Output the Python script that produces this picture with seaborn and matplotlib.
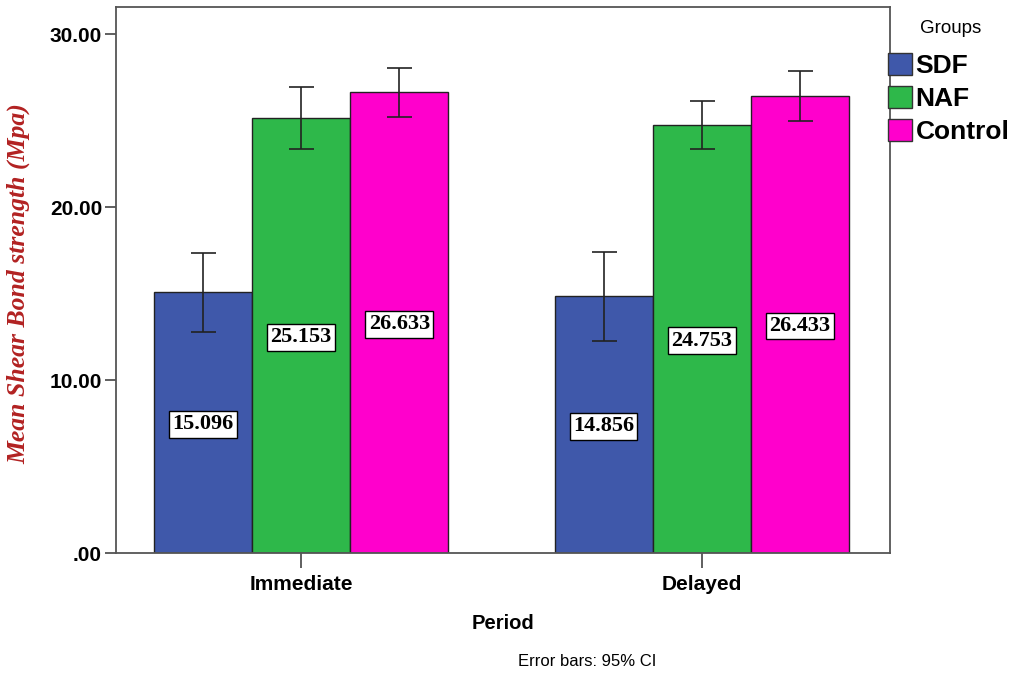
import numpy as np
import pandas as pd
import matplotlib
matplotlib.use("Agg")
import matplotlib.pyplot as plt
from matplotlib.patches import Patch
import seaborn as sns

# Werte
periods = ["Immediate", "Delayed"]
groups = ["SDF", "NAF", "Control"]
means = {"SDF": [15.096, 14.856], "NAF": [25.153, 24.753], "Control": [26.633, 26.433]}
ci_low = {"SDF": [12.77, 12.27], "NAF": [23.33, 23.37], "Control": [25.18, 24.95]}
ci_high = {"SDF": [17.34, 17.38], "NAF": [26.96, 26.11], "Control": [28.05, 27.88]}
colors = ["#3F58AA", "#2EB84A", "#FF00CC"]

rows = []
for g in groups:
    for i, p in enumerate(periods):
        rows.append({"Period": p, "Group": g, "Mean": means[g][i]})
df = pd.DataFrame(rows)

sns.set_style("white")
plt.rcParams["font.family"] = ["Liberation Sans", "DejaVu Sans"]
plt.rcParams["text.color"] = "black"
plt.rcParams["xtick.color"] = "black"
plt.rcParams["ytick.color"] = "black"
plt.rcParams["axes.labelcolor"] = "black"

fig = plt.figure(figsize=(10.13, 6.74), dpi=100)
ax = fig.add_axes([0.1145, 0.1795, 0.764, 0.810])

sns.barplot(data=df, x="Period", y="Mean", hue="Group", order=periods,
            hue_order=groups, palette=colors, width=0.735, errorbar=None,
            edgecolor="#222222", linewidth=1.0, saturation=1, ax=ax, legend=False)

# Fehlerbalken und Wertlabels
for gi, g in enumerate(groups):
    cont = ax.containers[gi]
    for pi, bar in enumerate(cont.patches):
        xc = bar.get_x() + bar.get_width() / 2
        m = means[g][pi]
        ax.errorbar(xc, m, yerr=[[m - ci_low[g][pi]], [ci_high[g][pi] - m]],
                    fmt="none", ecolor="#222222", elinewidth=1.2, capsize=9,
                    capthick=1.2, zorder=5)
        ax.text(xc, m / 2 - 0.1, f"{m:.3f}", ha="center", va="center",
                family="Liberation Serif", fontweight="bold", fontsize=16,
                bbox=dict(boxstyle="square,pad=0.15", fc="white", ec="black", lw=1),
                zorder=6)

ax.set_xlim(-0.4625, 1.47)
ax.set_ylim(0, 31.56)
ax.set_yticks([0, 10, 20, 30])
ax.set_yticklabels([".00", "10.00", "20.00", "30.00"], fontsize=15, fontweight="bold")
ax.set_xticks([0, 1])
ax.set_xticklabels(periods, fontsize=15, fontweight="bold")
ax.tick_params(axis="y", length=8, width=1.2, color="#444444", pad=2, left=True)
ax.tick_params(axis="x", length=11, width=1.2, color="#444444", pad=5, bottom=True)
for s in ax.spines.values():
    s.set_color("#555555")
    s.set_linewidth(1.3)

ax.set_xlabel("Period", fontsize=14.5, fontweight="bold", labelpad=14)
ax.set_ylabel("")
fig.text(0.018, 0.579, "Mean Shear Bond strength (Mpa)", rotation=90,
         ha="center", va="center", family="Liberation Serif", style="italic",
         fontweight="bold", fontsize=18.5, color="#B22222")
fig.text(0.58, 0.018, "Error bars: 95% CI", ha="center", va="center", fontsize=12)

# Legende rechts
fig.text(0.938, 0.958, "Groups", ha="center", va="center", fontsize=13.5)
handles = [Patch(facecolor=c, edgecolor="#333333", lw=1.0) for c in colors]
leg = fig.legend(handles, groups, loc="upper left",
                 bbox_to_anchor=(0.8765, 0.921), frameon=False,
                 prop={"weight": "bold", "size": 19},
                 handlelength=0.9, handleheight=0.9, handletextpad=0.15,
                 labelspacing=0.3, borderaxespad=0, borderpad=0)

fig.savefig("out.png", dpi=100)
